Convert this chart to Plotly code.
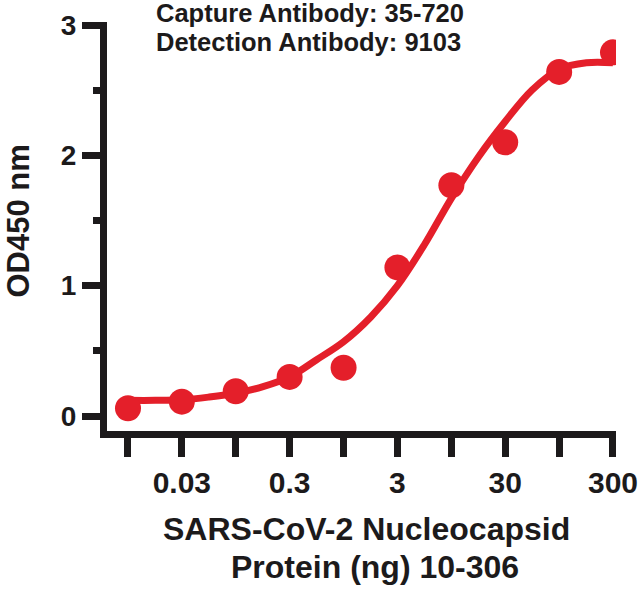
import plotly.graph_objects as go

# Protein amount (ng) – dilution series
protein_ng = [0.0095, 0.03, 0.095, 0.3, 0.95, 3, 9.5, 30, 95, 300]
od450 = [0.06, 0.11, 0.19, 0.30, 0.37, 1.14, 1.77, 2.10, 2.64, 2.79]

# Fitted curve
fit_x = [0.0095, 0.017, 0.03, 0.053, 0.095, 0.17, 0.3, 0.53, 0.95, 1.7,
         3, 5.3, 9.5, 17, 30, 53, 95, 170, 300]
fit_y = [0.12, 0.12, 0.125, 0.145, 0.175, 0.225, 0.30, 0.43, 0.57, 0.76,
         1.00, 1.31, 1.67, 1.99, 2.26, 2.50, 2.66, 2.71, 2.71]

x_tickvals = [0.0095, 0.03, 0.095, 0.3, 0.95, 3, 9.5, 30, 95, 300]
x_ticktext = ["", "0.03", "", "0.3", "", "3", "", "30", "", "300"]
y_tickvals = [0, 1, 2, 3]
y_minor = [0.5, 1.5, 2.5]

RED = "#E41F2A"
INK = "#1c1a1b"
FONT = "Liberation Sans, Arial, sans-serif"

def bold(size):
    return dict(size=size, family=FONT, color=INK, weight="bold")

fig = go.Figure()
fig.add_trace(go.Scatter(x=fit_x, y=fit_y, mode="lines",
                         line=dict(color=RED, width=7, shape="spline"),
                         hoverinfo="skip", showlegend=False))
fig.add_trace(go.Scatter(x=protein_ng, y=od450, mode="markers",
                         marker=dict(color=RED, size=26, line=dict(width=0)),
                         showlegend=False))

fig.update_layout(
    width=640, height=591,
    margin=dict(l=107, r=24, t=22, b=160, autoexpand=False),
    paper_bgcolor="white", plot_bgcolor="white",
    font=dict(family=FONT, color=INK, weight="bold"),
    xaxis=dict(type="log", range=[-2.217, 2.505],
               tickmode="array", tickvals=x_tickvals, ticktext=x_ticktext,
               ticks="outside", ticklen=19, tickwidth=7, tickcolor=INK,
               showline=True, linewidth=7, linecolor=INK,
               showgrid=False, zeroline=False,
               tickfont=bold(30)),
    yaxis=dict(range=[-0.115, 3.023],
               tickmode="array", tickvals=y_tickvals,
               ticks="outside", ticklen=18, tickwidth=7, tickcolor=INK,
               minor=dict(tickvals=y_minor, ticks="outside", ticklen=7,
                          tickwidth=7, tickcolor=INK, showgrid=False),
               showline=True, linewidth=7, linecolor=INK,
               showgrid=False, zeroline=False,
               tickfont=bold(28)),
    annotations=[
        dict(text="Capture Antibody: 35-720", xref="paper", yref="paper",
             x=0.0943, y=1.0208, xanchor="left", yanchor="middle", showarrow=False,
             borderpad=0, font=bold(25.5)),
        dict(text="Detection Antibody: 9103", xref="paper", yref="paper",
             x=0.0943, y=0.9523, xanchor="left", yanchor="middle", showarrow=False,
             borderpad=0, font=bold(25.5)),
        dict(text="SARS-CoV-2 Nucleocapsid", xref="paper", yref="paper",
             x=0.5108, y=-0.2396, xanchor="center", yanchor="middle", showarrow=False,
             borderpad=0, font=bold(32)),
        dict(text="Protein (ng) 10-306", xref="paper", yref="paper",
             x=0.5265, y=-0.3325, xanchor="center", yanchor="middle", showarrow=False,
             borderpad=0, font=bold(32)),
        dict(text="OD450 nm", xref="paper", yref="paper", textangle=-90,
             x=-0.1739, y=0.5134, xanchor="center", yanchor="middle", showarrow=False,
             borderpad=0, font=bold(31)),
    ],
)

fig.write_html("out.html",
               config={"displayModeBar": False},
               post_script="document.body.style.margin='0px';"
                           "document.body.style.overflow='hidden';")
